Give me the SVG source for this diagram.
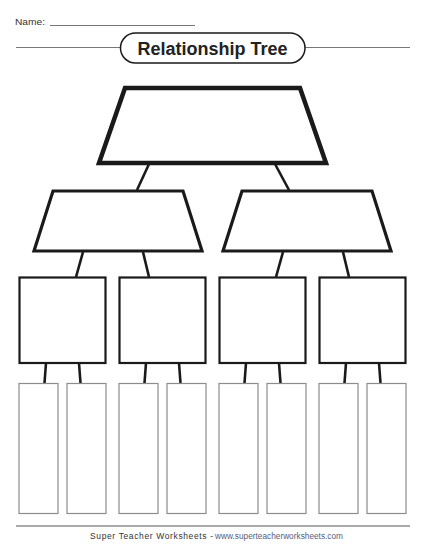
<svg xmlns="http://www.w3.org/2000/svg" width="425" height="550" viewBox="0 0 425 550">
<style>
.bg{fill:#fff}
.t1{fill:#fff;stroke:#1a1a1a;stroke-width:4.5;stroke-linejoin:miter}
.t2{fill:#fff;stroke:#1a1a1a;stroke-width:3.2;stroke-linejoin:miter}
.sq{fill:#fff;stroke:#1a1a1a;stroke-width:2.2}
.rc{fill:#fff;stroke:#8c8c8c;stroke-width:1.2}
.cn{stroke:#1a1a1a;stroke-width:2.6;fill:none}
.rule{stroke:#777;stroke-width:1.2}
.lbl{font-family:"Liberation Sans",Arial,sans-serif;fill:#333}
</style>
<rect class="bg" x="0" y="0" width="425" height="550"/>
<g id="header">
<text class="lbl" x="15" y="25" font-size="9.5" textLength="30" lengthAdjust="spacingAndGlyphs">Name:</text>
<line x1="50" y1="25.5" x2="195" y2="25.5" stroke="#777" stroke-width="1"/>
<line class="rule" x1="16" y1="47.5" x2="120" y2="47.5"/>
<line class="rule" x1="305" y1="47.5" x2="410" y2="47.5"/>
<rect x="120.5" y="33" width="184.5" height="30" rx="15" ry="15" fill="#fff" stroke="#1a1a1a" stroke-width="1.5"/>
<text x="212.5" y="55" font-family="'Liberation Sans',Arial,sans-serif" font-weight="bold" font-size="18" fill="#222" text-anchor="middle" textLength="150" lengthAdjust="spacingAndGlyphs">Relationship Tree</text>
</g>
<g id="connectors">
<line class="cn" x1="149" y1="164" x2="137" y2="190"/>
<line class="cn" x1="275" y1="164" x2="289" y2="190"/>
<line class="cn" x1="83" y1="252" x2="76" y2="277"/>
<line class="cn" x1="143" y1="252" x2="149" y2="277"/>
<line class="cn" x1="283" y1="252" x2="276" y2="277"/>
<line class="cn" x1="343" y1="252" x2="349" y2="277"/>
<line class="cn" x1="46" y1="363" x2="44.5" y2="383"/>
<line class="cn" x1="79" y1="363" x2="80.5" y2="383"/>
<line class="cn" x1="146" y1="363" x2="144.5" y2="383"/>
<line class="cn" x1="179" y1="363" x2="180.5" y2="383"/>
<line class="cn" x1="246" y1="363" x2="244.5" y2="383"/>
<line class="cn" x1="279" y1="363" x2="280.5" y2="383"/>
<line class="cn" x1="346" y1="363" x2="344.5" y2="383"/>
<line class="cn" x1="379" y1="363" x2="380.5" y2="383"/>
</g>
<g id="root"><polygon class="t1" points="125,88 300,88 326,163 99,163"/></g>
<g id="parent-left"><polygon class="t2" points="53,191 183,191 202,251 34,251"/></g>
<g id="parent-right"><polygon class="t2" points="242,191 372,191 391,251 223,251"/></g>
<g id="child-1"><rect class="sq" x="19.5" y="277.5" width="86" height="85.5"/></g>
<g id="child-2"><rect class="sq" x="119.5" y="277.5" width="86" height="85.5"/></g>
<g id="child-3"><rect class="sq" x="219.5" y="277.5" width="86" height="85.5"/></g>
<g id="child-4"><rect class="sq" x="319.5" y="277.5" width="86" height="85.5"/></g>
<g id="leaf-1"><rect class="rc" x="19" y="383.5" width="39" height="130"/></g>
<g id="leaf-2"><rect class="rc" x="67" y="383.5" width="39" height="130"/></g>
<g id="leaf-3"><rect class="rc" x="119" y="383.5" width="39" height="130"/></g>
<g id="leaf-4"><rect class="rc" x="167" y="383.5" width="39" height="130"/></g>
<g id="leaf-5"><rect class="rc" x="219" y="383.5" width="39" height="130"/></g>
<g id="leaf-6"><rect class="rc" x="267" y="383.5" width="39" height="130"/></g>
<g id="leaf-7"><rect class="rc" x="319" y="383.5" width="39" height="130"/></g>
<g id="leaf-8"><rect class="rc" x="367" y="383.5" width="39" height="130"/></g>
<g id="footer">
<line x1="16" y1="526" x2="410" y2="526" stroke="#555" stroke-width="1"/>
<text class="lbl" x="90" y="538.5" font-size="8.5" textLength="123" lengthAdjust="spacing">Super Teacher Worksheets -</text>
<text x="215" y="538.5" font-family="'Liberation Sans',Arial,sans-serif" font-size="8.5" fill="#55607e" textLength="128" lengthAdjust="spacingAndGlyphs">www.superteacherworksheets.com</text>
</g>
</svg>
